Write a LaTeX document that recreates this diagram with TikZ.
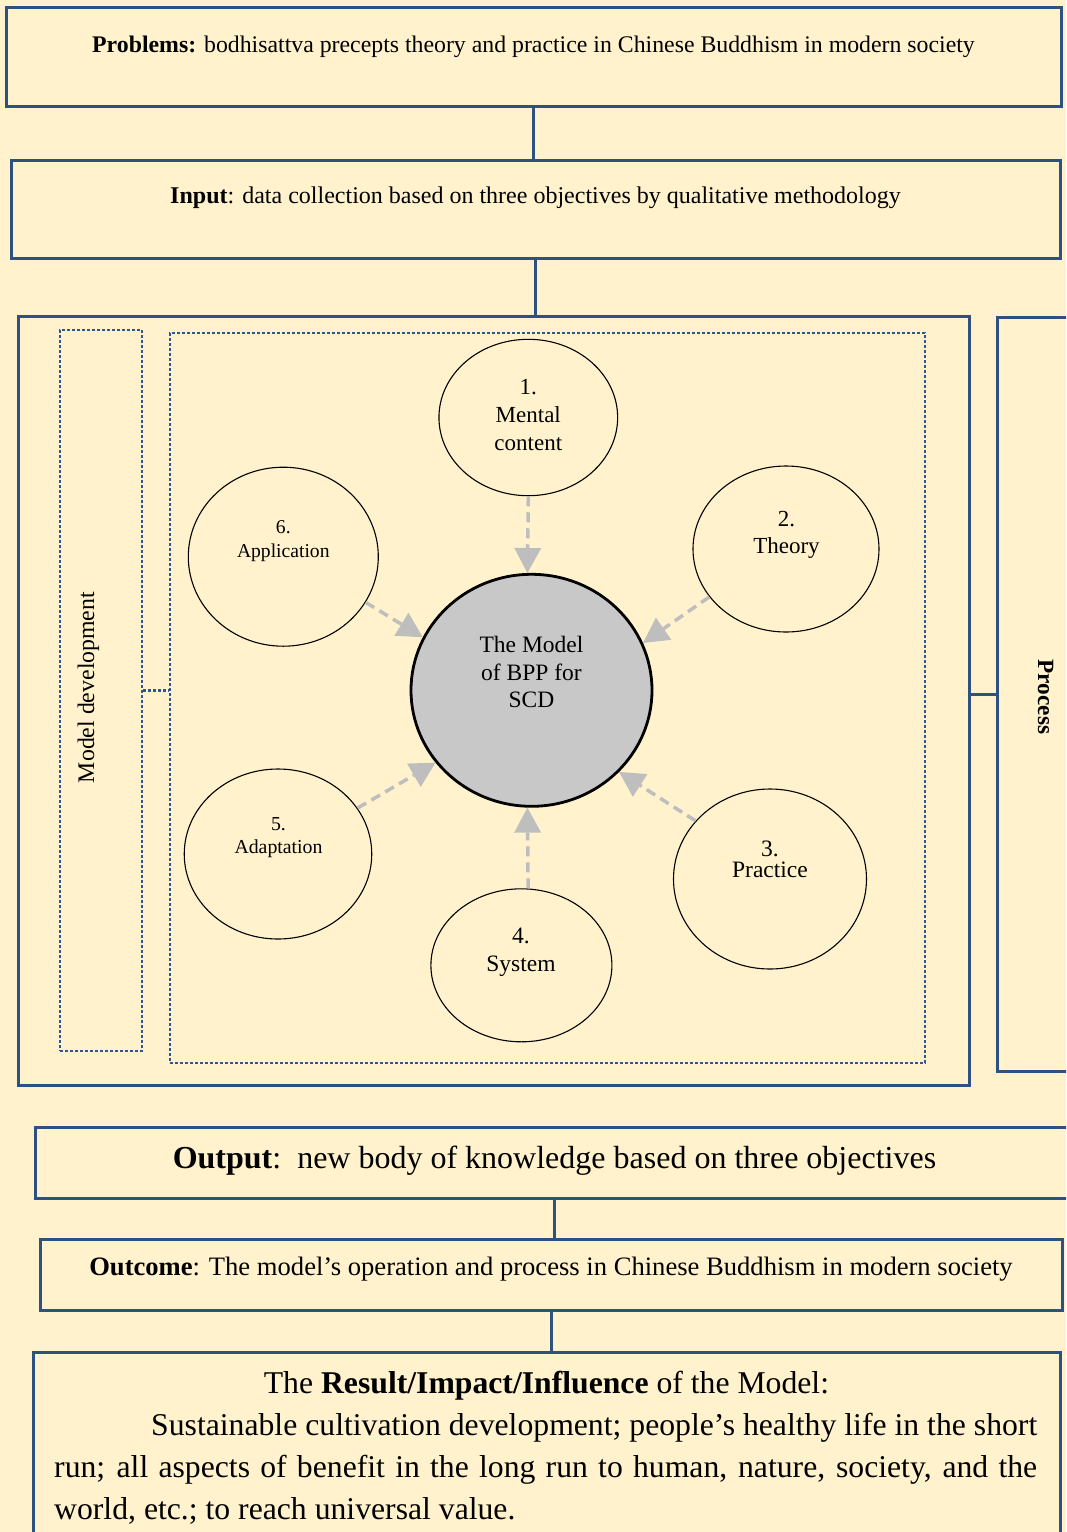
\documentclass[tikz,border=0pt]{standalone}
\usepackage{fontspec}
\setmainfont{Liberation Serif}
\usetikzlibrary{shapes.geometric,arrows.meta,calc}
\definecolor{bg}{HTML}{FFF2CC}
\definecolor{bluebox}{RGB}{44,82,130}
\definecolor{bluedot}{RGB}{47,85,151}
\definecolor{arrgray}{RGB}{190,190,190}
\definecolor{cfill}{RGB}{200,200,200}
\begin{document}
\begin{tikzpicture}[x=1pt,y=-1pt,
  box/.style={draw=bluebox,line width=3pt,rectangle,inner sep=0pt},
  dotbox/.style={draw=bluedot,line width=2.8pt,dash pattern=on 2.8pt off 2.2pt,rectangle,inner sep=0pt},
  link/.style={draw=bluebox,line width=3pt},
  dotlink/.style={draw=bluedot,line width=2.8pt,dash pattern=on 2.8pt off 2.2pt},
  oval/.style={ellipse,draw=black,line width=1.1pt,inner sep=0pt},
  feed/.style={draw=arrgray,line width=3.5pt,dash pattern=on 10pt off 6pt,-{Triangle[length=25pt,width=27pt,line width=0pt]}},
  txt/.style={inner sep=0pt,text=black},
  ctext/.style={txt,align=center,anchor=base},
]
\useasboundingbox (0,0) rectangle (1066,1532);
\clip (0,0) rectangle (1066,1532);
\fill[bg] (0,0) rectangle (1066,1532);

% boxes
\node[box,minimum width=1055pt,minimum height=99pt] (prob) at (533.5,56.5) {};
\node[box,minimum width=1049pt,minimum height=98pt] (inp) at (535.5,209) {};
\node[box,minimum width=951pt,minimum height=769pt] (big) at (493.5,700.5) {};
\node[box,minimum width=83pt,minimum height=754pt] (proc) at (1038.5,694) {};
\node[dotbox,minimum width=82pt,minimum height=721pt] (md) at (101,690.5) {};
\node[dotbox,minimum width=755pt,minimum height=730pt] (ib) at (547.5,698) {};
\node[box,minimum width=1045pt,minimum height=71pt] (out) at (557.5,1162.5) {};
\node[box,minimum width=1022pt,minimum height=71pt] (outc) at (551,1274.5) {};
\node[box,minimum width=1027pt,minimum height=208pt] (res) at (546.5,1456) {};

% connectors
\draw[link] ([xshift=-2.5pt]inp.north) -- ([xshift=-2.5pt]inp.north |- prob.south);
\draw[link] (inp.south) -- (inp.south |- big.north);
\draw[link] (proc.west) -- (proc.west -| big.east);
\draw[dotlink] (md.east) -- (md.east -| ib.west);
\draw[link] ([xshift=3pt]outc.north) -- ([xshift=3pt]outc.north |- out.south);
\draw[link] (outc.south) -- (outc.south |- res.north);

% texts of boxes
\node[txt,anchor=base,font=\fontsize{23.8}{28}\selectfont] (probt) at (533.5,52.7)
  {\textbf{Problems:} bodhisattva precepts theory and practice in Chinese Buddhism in modern society};
\node[txt,anchor=base,font=\fontsize{24}{28}\selectfont] (inpt) at (535.5,203)
  {\textbf{Input}: data collection based on three objectives by qualitative methodology};
\node[txt,anchor=base,font=\fontsize{32}{38}\selectfont] (outt) at (554.5,1168)
  {\textbf{Output}:~~new body of knowledge based on three objectives};
\node[txt,anchor=base,font=\fontsize{26.6}{32}\selectfont] (outct) at (551,1275)
  {\textbf{Outcome}: The model’s operation and process in Chinese Buddhism in modern society};
\node[txt,anchor=base,font=\fontsize{31.7}{42}\selectfont] (r1) at (546.5,1393)
  {The \textbf{Result/Impact/Influence} of the Model:};
\node[txt,anchor=base west,font=\fontsize{31.7}{42}\selectfont] (r2) at (151,1435)
  {\makebox[886pt][s]{Sustainable cultivation development; people’s healthy life in the short}};
\node[txt,anchor=base west,font=\fontsize{31.7}{42}\selectfont] (r3) at (54,1477)
  {\makebox[983pt][s]{run; all aspects of benefit in the long run to human, nature, society, and the}};
\node[txt,anchor=base west,font=\fontsize{31.7}{42}\selectfont] (r4) at (54,1519)
  {world, etc.; to reach universal value.};
\node[txt,anchor=base,rotate=90,font=\fontsize{23.8}{28}\selectfont] (mdt) at (94,687.5) {Model development};
\node[txt,anchor=base,rotate=-90,font=\fontsize{23.3}{28}\bfseries] (proct) at (1038,697) {Process};

% ovals
\node[oval,minimum width=178.7pt,minimum height=156.4pt] (m1) at (528.3,417.5) {};
\node[oval,minimum width=186pt,minimum height=166pt] (th) at (786,549) {};
\node[oval,minimum width=190pt,minimum height=179pt] (app) at (283.3,556.7) {};
\node[oval,minimum width=187.5pt,minimum height=170pt] (ad) at (278,854) {};
\node[oval,minimum width=181pt,minimum height=153pt] (sy) at (521.4,965.3) {};
\node[oval,minimum width=193pt,minimum height=180pt] (pr) at (770,879) {};
\node[ellipse,draw=black,fill=cfill,line width=2.8pt,inner sep=0pt,minimum width=241pt,minimum height=232pt] (c) at (531.5,690.3) {};

% oval texts (anchor = baseline of the last line)
\node[ctext,font=\fontsize{23}{28}\selectfont] (m1t) at (528.3,450.7) {1.\\Mental\\content};
\node[ctext,font=\fontsize{23}{27}\selectfont] (tht) at (786.5,553) {2.\\Theory};
\node[ctext,font=\fontsize{19.6}{24}\selectfont] (appt) at (283.3,557) {6.\\Application};
\node[ctext,font=\fontsize{19.8}{22.5}\selectfont] (adt) at (278.5,853) {5.\\Adaptation};
\node[ctext,font=\fontsize{23.5}{28.7}\selectfont] (syt) at (521,971.7) {4.\\System};
\node[ctext,font=\fontsize{23.5}{21}\selectfont] (prt) at (770,877.7) {3.\\Practice};
\node[ctext,font=\fontsize{23.5}{27.5}\selectfont] (ct) at (531.5,707.7) {The Model\\of BPP for\\SCD};

% arrows
\draw[feed] (m1.270) -- (c.92);
\draw[feed] (th.212) -- (c.23);
\draw[feed] (app.331) -- (c.154);
\draw[feed] (ad.30) -- (c.217);
\draw[feed] (sy.85) -- (c.268);
\draw[feed] (pr.142) -- (c.317);
\end{tikzpicture}
\end{document}
